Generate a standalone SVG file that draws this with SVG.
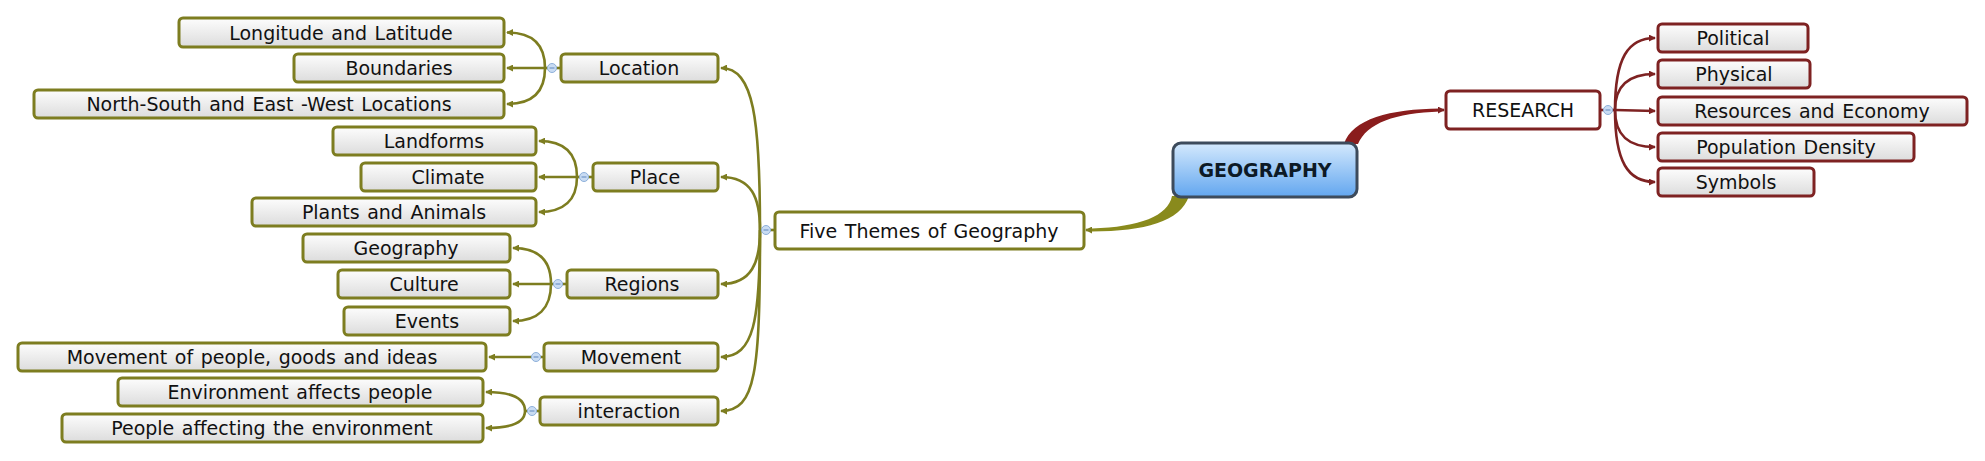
<svg xmlns="http://www.w3.org/2000/svg" width="1985" height="461" viewBox="0 0 1985 461">
<defs>
<linearGradient id="gbox" x1="0" y1="0" x2="0" y2="1"><stop offset="0" stop-color="#fdfdfd"/><stop offset="1" stop-color="#dcdcdc"/></linearGradient>
<linearGradient id="groot" x1="0" y1="0" x2="0" y2="1"><stop offset="0" stop-color="#d4e9fd"/><stop offset="1" stop-color="#62a6ef"/></linearGradient>
<marker id="ag" viewBox="0 0 8 8" refX="7" refY="4" markerWidth="7" markerHeight="7" markerUnits="userSpaceOnUse" orient="auto"><path d="M0,0 L8,4 L0,8 Z" fill="#7d7d20"/></marker>
<marker id="ar" viewBox="0 0 8 8" refX="7" refY="4" markerWidth="7" markerHeight="7" markerUnits="userSpaceOnUse" orient="auto"><path d="M0,0 L8,4 L0,8 Z" fill="#7e2222"/></marker>
<style>
.g rect{fill:url(#gbox);stroke:#7d7d20;stroke-width:3}
.gw rect{fill:#fff;stroke:#7d7d20;stroke-width:3}
.r rect{fill:url(#gbox);stroke:#7e2222;stroke-width:3}
.rw rect{fill:#fff;stroke:#7e2222;stroke-width:3}
text{font-family:"DejaVu Sans",Verdana,sans-serif;font-size:19px;fill:#111;text-anchor:middle;word-spacing:1.5px}
.cg{fill:none;stroke:#7d7d20;stroke-width:2.6;marker-end:url(#ag)}
.cgn{fill:none;stroke:#7d7d20;stroke-width:2.6}
.cr{fill:none;stroke:#7e2222;stroke-width:2.6;marker-end:url(#ar)}
.btn circle{fill:#c9dcf3;stroke:#8eb0da;stroke-width:1}
.btn line{stroke:#5f86bd;stroke-width:1}
</style>
</defs>
<g id="connectors">
<path d="M1172,196 C1168,216 1140,227 1092,228.5 L1092,231.5 C1145,231 1180,222 1189,196 Z" fill="#898a1c"/>
<path d="M1092,230 L1086,230" class="cg"/>
<path d="M1344,144 C1352,119 1390,109 1440,108.5 L1440,111.5 C1395,113 1367,123 1358,144 Z" fill="#8a1d1d"/>
<path d="M1438,110 L1444,110" class="cr"/>
<!-- Five Themes fork -->
<path d="M774,230 L760,230" class="cgn"/>
<path d="M760,230 C760,120 754,68 721,68" class="cg"/>
<path d="M760,230 C760,198 752,177 721,177" class="cg"/>
<path d="M760,230 C760,262 752,284 721,284" class="cg"/>
<path d="M760,230 C760,320 754,357 721,357" class="cg"/>
<path d="M760,230 C760,372 756,411 721,411" class="cg"/>
<!-- Location fork -->
<path d="M560,68 L545,68" class="cgn"/>
<path d="M545,68 C545,44 532,32.5 507,32.5" class="cg"/>
<path d="M545,68 L507,68" class="cg"/>
<path d="M545,68 C545,92 532,104 507,104" class="cg"/>
<!-- Place fork -->
<path d="M592,177 L577,177" class="cgn"/>
<path d="M577,177 C577,153 564,141 539,141" class="cg"/>
<path d="M577,177 L539,177" class="cg"/>
<path d="M577,177 C577,200 564,212 539,212" class="cg"/>
<!-- Regions fork -->
<path d="M566,284 L551,284" class="cgn"/>
<path d="M551,284 C551,260 538,248 513,248" class="cg"/>
<path d="M551,284 L513,284" class="cg"/>
<path d="M551,284 C551,308 538,321 513,321" class="cg"/>
<!-- Movement -->
<path d="M543,357 L489,357" class="cg"/>
<!-- interaction fork -->
<path d="M539,411 L525,411" class="cgn"/>
<path d="M525,411 C525,398 512,392 486,392" class="cg"/>
<path d="M525,411 C525,422 512,428 486,428" class="cg"/>
<!-- RESEARCH fork -->
<path d="M1601,110 L1615,110" class="cgn" style="stroke:#7e2222"/>
<path d="M1615,110 C1615,58 1628,38 1655,38" class="cr"/>
<path d="M1615,110 C1615,86 1628,74 1655,74" class="cr"/>
<path d="M1615,110 L1655,111" class="cr"/>
<path d="M1615,110 C1615,135 1628,147 1655,147" class="cr"/>
<path d="M1615,110 C1615,162 1628,182 1655,182" class="cr"/>
</g>
<g id="buttons" class="btn">
<circle cx="552" cy="68" r="4.5"/><line x1="549.5" y1="68" x2="554.5" y2="68"/>
<circle cx="584" cy="177" r="4.5"/><line x1="581.5" y1="177" x2="586.5" y2="177"/>
<circle cx="558" cy="284" r="4.5"/><line x1="555.5" y1="284" x2="560.5" y2="284"/>
<circle cx="536" cy="357" r="4.5"/><line x1="533.5" y1="357" x2="538.5" y2="357"/>
<circle cx="532" cy="411" r="4.5"/><line x1="529.5" y1="411" x2="534.5" y2="411"/>
<circle cx="766" cy="230" r="4.5"/><line x1="763.5" y1="230" x2="768.5" y2="230"/>
<circle cx="1608" cy="110" r="4.5"/><line x1="1605.5" y1="110" x2="1610.5" y2="110"/>
</g>
<g id="root"><rect x="1173" y="143" width="184" height="54" rx="8" fill="url(#groot)" stroke="#3d4b5c" stroke-width="3"/><text x="1265" y="177" style="font-weight:bold;fill:#0d1a26">GEOGRAPHY</text></g>
<g id="five-themes" class="gw"><rect x="775" y="212" width="309" height="37" rx="4"/><text x="929" y="237.5">Five Themes of Geography</text></g>
<g id="research" class="rw"><rect x="1446" y="91" width="154" height="38" rx="4"/><text x="1523" y="117">RESEARCH</text></g>
<g id="location" class="g"><rect x="561" y="54" width="157" height="28" rx="4"/><text x="639" y="75">Location</text></g>
<g id="place" class="g"><rect x="593" y="163" width="125" height="28" rx="4"/><text x="655" y="184">Place</text></g>
<g id="regions" class="g"><rect x="567" y="270" width="151" height="28" rx="4"/><text x="642" y="291">Regions</text></g>
<g id="movement" class="g"><rect x="544" y="343" width="174" height="28" rx="4"/><text x="631" y="364">Movement</text></g>
<g id="interaction" class="g"><rect x="540" y="397" width="178" height="28" rx="4"/><text x="629" y="418">interaction</text></g>
<g id="longitude" class="g"><rect x="179" y="18" width="325" height="29" rx="4"/><text x="341" y="39.5">Longitude and Latitude</text></g>
<g id="boundaries" class="g"><rect x="294" y="54" width="210" height="28" rx="4"/><text x="399" y="75">Boundaries</text></g>
<g id="north-south" class="g"><rect x="34" y="90" width="470" height="28" rx="4"/><text x="269" y="111">North-South and East -West Locations</text></g>
<g id="landforms" class="g"><rect x="333" y="127" width="203" height="28" rx="4"/><text x="434" y="148">Landforms</text></g>
<g id="climate" class="g"><rect x="361" y="163" width="175" height="28" rx="4"/><text x="448" y="184">Climate</text></g>
<g id="plants" class="g"><rect x="252" y="198" width="284" height="28" rx="4"/><text x="394" y="219">Plants and Animals</text></g>
<g id="geography" class="g"><rect x="303" y="234" width="207" height="28" rx="4"/><text x="406" y="255">Geography</text></g>
<g id="culture" class="g"><rect x="338" y="270" width="172" height="28" rx="4"/><text x="424" y="291">Culture</text></g>
<g id="events" class="g"><rect x="344" y="307" width="166" height="28" rx="4"/><text x="427" y="328">Events</text></g>
<g id="movement-people" class="g"><rect x="18" y="343" width="468" height="28" rx="4"/><text x="252" y="364">Movement of people, goods and ideas</text></g>
<g id="environment" class="g"><rect x="118" y="378" width="365" height="28" rx="4"/><text x="300" y="399">Environment affects people</text></g>
<g id="people" class="g"><rect x="62" y="414" width="421" height="28" rx="4"/><text x="272" y="435">People affecting the environment</text></g>
<g id="political" class="r"><rect x="1658" y="24" width="150" height="28" rx="4"/><text x="1733" y="45">Political</text></g>
<g id="physical" class="r"><rect x="1658" y="60" width="152" height="28" rx="4"/><text x="1734" y="81">Physical</text></g>
<g id="resources" class="r"><rect x="1658" y="97" width="309" height="28" rx="4"/><text x="1812" y="118">Resources and Economy</text></g>
<g id="population" class="r"><rect x="1658" y="133" width="256" height="28" rx="4"/><text x="1786" y="154">Population Density</text></g>
<g id="symbols" class="r"><rect x="1658" y="168" width="156" height="28" rx="4"/><text x="1736" y="189">Symbols</text></g>
</svg>
